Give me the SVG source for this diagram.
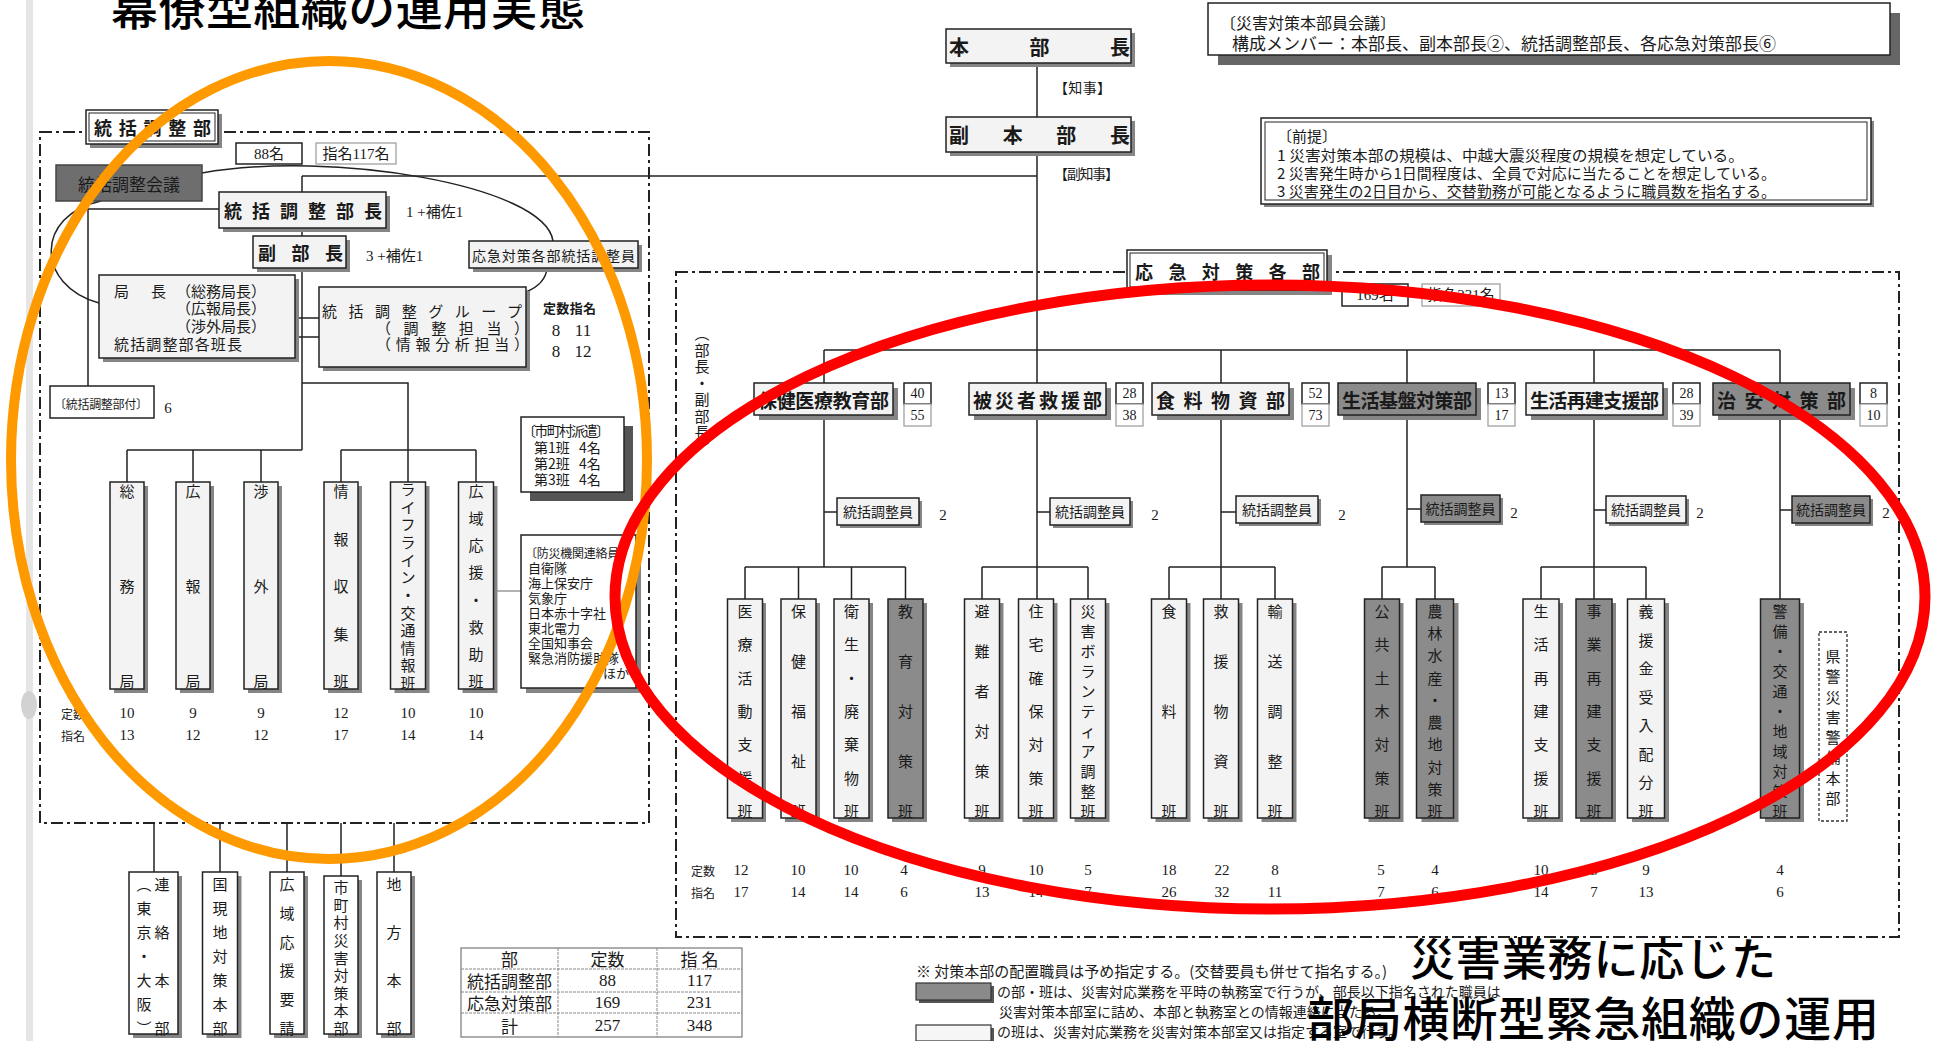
<svg xmlns="http://www.w3.org/2000/svg" width="1933" height="1041" viewBox="0 0 1933 1041">
<style>
text{font-family:"Noto Sans CJK JP","Noto Sans",sans-serif;fill:#1a1a1a;dominant-baseline:central;font-size:15px}
.m{text-anchor:middle}
.num{font-family:"Liberation Serif","Noto Sans CJK JP",serif}
.b{font-weight:bold}
.f12{font-size:12px}.f13{font-size:13px}.f14{font-size:14px}.f16{font-size:16px}.f17{font-size:17px}.f18{font-size:18px}.f19{font-size:19px}.f20{font-size:20px}
.ln{fill:none;stroke:#222;stroke-width:1.5}
.lg{fill:none;stroke:#999;stroke-width:1.5}
.lt{fill:#f3f3f3;stroke:#222;stroke-width:1.5}
.dk{fill:#8b8b8b;stroke:#222;stroke-width:1.5}
.wh{fill:#fff;stroke:#222;stroke-width:1.5}
.wg{fill:#fff;stroke:#999;stroke-width:1.2}
.sh{fill:#858585}
.sd{fill:#555}
.fr{fill:none;stroke:#222;stroke-width:2;stroke-dasharray:12 4 3 4}
.v{text-anchor:middle;font-size:15px}
.ttl{font-family:"Noto Sans CJK JP",sans-serif;font-weight:500;fill:#000;dominant-baseline:alphabetic}
.t45{font-size:45px}.t47{font-size:47px}
</style>

<!-- scan artefacts -->
<rect x="26" y="0" width="7" height="1041" fill="#e6e6e6"/>
<ellipse cx="29" cy="705" rx="8" ry="14" fill="#d2d2d2"/>

<!-- frames -->
<g id="frames">
<rect class="fr" x="40" y="132" width="609" height="691"/>
<rect class="fr" x="676" y="272" width="1223" height="665"/>
</g>

<!-- connectors -->
<g id="connectors">
<path class="ln" d="M302,176 H1037"/>
<path class="ln" d="M302,176 V450 M127,450 H302 M127,450 V482 M193,450 V482 M261,450 V482"/>
<path class="ln" d="M302,383 H408 V482 M341,450 H476 M341,450 V482 M476,450 V482"/>
<path class="ln" d="M295,318 H319 M295,337 H319"/>
<path class="ln" d="M219,209 H88 V386"/>
<path class="ln" d="M202,173 C330,150 545,185 553,241"/>
<path class="ln" d="M101,201 C35,215 35,285 99,303"/>
<path class="ln" d="M547,268 C546,280 538,287 526,292"/>
<path class="lg" d="M492,591 H521"/>
<path class="ln" d="M154,823 V872 M220,823 V872 M287,823 V872 M341,823 V876 M394,823 V872"/>
<path class="ln" d="M1037,63 V383"/>
<path class="ln" d="M824,350 H1780 M824,350 V383 M1221,350 V383 M1407,350 V383 M1594,350 V383 M1780,350 V383"/>
<path class="ln" d="M824,415 V567 M1037,415 V599 M1221,415 V599 M1407,415 V567 M1594,415 V599 M1780,415 V599"/>
<path class="ln" d="M824,512 H837 M1037,512 H1050 M1221,512 H1236 M1407,509 H1421 M1594,510 H1606 M1780,510 H1792"/>
<path class="ln" d="M745,567 H905.5 M745,567 V599 M798.5,567 V599 M851.5,567 V599 M905.5,567 V599"/>
<path class="ln" d="M982,567 H1088 M982,567 V599 M1088,567 V599"/>
<path class="ln" d="M1169,567 H1275 M1169,567 V599 M1275,567 V599"/>
<path class="ln" d="M1382,567 H1435 M1382,567 V599 M1435,567 V599"/>
<path class="ln" d="M1541,567 H1646 M1541,567 V599 M1646,567 V599"/>
</g>

<!-- ===== left: 統括調整部 ===== -->
<g id="hdr-tokatsu">
<rect class="sh" x="90" y="114" width="132" height="34"/>
<rect class="wh" x="86" y="110" width="132" height="34"/>
<rect fill="none" stroke="#222" stroke-width="1" x="89" y="113" width="126" height="28"/>
<text class="f18 b" x="94" y="127" textLength="117" lengthAdjust="spacing">統括調整部</text>
</g>
<g id="cnt-88"><rect class="wh" x="236" y="143" width="66" height="21"/><text class="m num" x="269" y="154">88名</text></g>
<g id="cnt-117"><rect class="wg" x="316" y="143" width="80" height="21"/><text class="m num" x="356" y="154">指名117名</text></g>
<g id="kaigi"><rect fill="#6e6e6e" stroke="#444" stroke-width="1.5" x="56" y="165" width="146" height="36"/><text class="f17 m" x="129" y="183">統括調整会議</text></g>
<g id="buchou">
<rect class="sh" x="223" y="196" width="167" height="36"/><rect class="lt" x="219" y="192" width="167" height="36"/>
<text class="f18 b" x="224" y="210" textLength="158" lengthAdjust="spacing">統括調整部長</text>
<text class="num" x="406" y="212">1 +補佐1</text>
</g>
<g id="fukubuchou">
<rect class="sh" x="257" y="240" width="93" height="32"/><rect class="lt" x="253" y="236" width="93" height="32"/>
<text class="f18 b" x="258" y="252" textLength="85" lengthAdjust="spacing">副部長</text>
<text class="num" x="366" y="256">3 +補佐1</text>
</g>
<g id="oukyu-chousei">
<rect class="sh" x="473" y="245" width="169" height="27"/><rect class="lt" x="469" y="241" width="169" height="27"/>
<text class="f14" x="472" y="255" textLength="163" lengthAdjust="spacing">応急対策各部統括調整員</text>
</g>
<g id="kyokuchou">
<rect class="sh" x="103" y="279" width="196" height="83"/><rect class="lt" x="99" y="275" width="196" height="83"/>
<text x="114" y="290">局<tspan x="151">長</tspan><tspan x="176">（総務局長）</tspan></text>
<text x="176" y="307">（広報局長）</text>
<text x="176" y="325">（渉外局長）</text>
<text x="114" y="343" textLength="128" lengthAdjust="spacing">統括調整部各班長</text>
</g>
<g id="group">
<rect class="sh" x="323" y="291" width="207" height="80"/><rect class="lt" x="319" y="287" width="207" height="80"/>
<text x="322" y="310" textLength="200" lengthAdjust="spacing">統括調整グループ</text>
<text x="376" y="327" textLength="153" lengthAdjust="spacing">（調整担当）</text>
<text x="376" y="343" textLength="153" lengthAdjust="spacing">（情報分析担当）</text>
<text class="f13 b" x="543" y="307" textLength="53" lengthAdjust="spacing">定数指名</text>
<text class="num f17 m" x="556" y="330">8</text><text class="num f17 m" x="583" y="330">11</text>
<text class="num f17 m" x="556" y="351">8</text><text class="num f17 m" x="583" y="351">12</text>
</g>
<g id="fuzoku">
<rect class="wh" x="50" y="386" width="104" height="32"/>
<text class="f12" x="54" y="403" textLength="94" lengthAdjust="spacing">〔統括調整部付〕</text>
<text class="num m" x="168" y="408">6</text>
</g>
<g id="haken">
<rect class="sd" x="530" y="426" width="103" height="75"/><rect class="wh" x="521" y="417" width="103" height="75"/>
<text class="f14" x="522" y="430" textLength="88" lengthAdjust="spacing">〔市町村派遣〕</text>
<text class="f14" x="534" y="447">第1班<tspan x="579">4名</tspan></text>
<text class="f14" x="534" y="463">第2班<tspan x="579">4名</tspan></text>
<text class="f14" x="534" y="479">第3班<tspan x="579">4名</tspan></text>
</g>
<g id="bousai">
<rect class="sh" x="526" y="540" width="115" height="153"/><rect class="wh" x="521" y="535" width="115" height="153"/>
<text class="f12" x="525" y="552" textLength="106" lengthAdjust="spacing">〔防災機関連絡員〕</text>
<text class="f13" x="528" y="567">自衛隊</text>
<text class="f13" x="528" y="582">海上保安庁</text>
<text class="f13" x="528" y="597">気象庁</text>
<text class="f13" x="528" y="612">日本赤十字社</text>
<text class="f13" x="528" y="627">東北電力</text>
<text class="f13" x="528" y="642">全国知事会</text>
<text class="f13" x="528" y="657">緊急消防援助隊</text>
<text class="f13" x="603" y="672">ほか</text>
</g>
<g id="ban-soumu"><rect class="sh" x="114" y="486" width="34" height="207"/><rect class="lt" x="110" y="482" width="34" height="207"/>
<text class="v"><tspan x="127" y="490">総</tspan><tspan x="127" y="585">務</tspan><tspan x="127" y="680">局</tspan></text></g>
<g id="ban-kouhou"><rect class="sh" x="180" y="486" width="34" height="207"/><rect class="lt" x="176" y="482" width="34" height="207"/>
<text class="v"><tspan x="193" y="490">広</tspan><tspan x="193" y="585">報</tspan><tspan x="193" y="680">局</tspan></text></g>
<g id="ban-shougai"><rect class="sh" x="248" y="486" width="34" height="207"/><rect class="lt" x="244" y="482" width="34" height="207"/>
<text class="v"><tspan x="261" y="490">渉</tspan><tspan x="261" y="585">外</tspan><tspan x="261" y="680">局</tspan></text></g>
<g id="ban-jouhou"><rect class="sh" x="328" y="486" width="34" height="207"/><rect class="lt" x="324" y="482" width="34" height="207"/>
<text class="v"><tspan x="341" y="490">情</tspan><tspan x="341" y="537.5">報</tspan><tspan x="341" y="585">収</tspan><tspan x="341" y="632.5">集</tspan><tspan x="341" y="680">班</tspan></text></g>
<g id="ban-lifeline"><rect class="sh" x="394.5" y="486" width="35" height="207"/><rect class="lt" x="390.5" y="482" width="35" height="207"/>
<text class="v"><tspan x="408" y="488">ラ</tspan><tspan x="408" y="505.6">イ</tspan><tspan x="408" y="523.3">フ</tspan><tspan x="408" y="540.9">ラ</tspan><tspan x="408" y="558.5">イ</tspan><tspan x="408" y="576.2">ン</tspan><tspan x="408" y="593.8">・</tspan><tspan x="408" y="611.5">交</tspan><tspan x="408" y="629.1">通</tspan><tspan x="408" y="646.7">情</tspan><tspan x="408" y="664.4">報</tspan><tspan x="408" y="682">班</tspan></text></g>
<g id="ban-kouiki"><rect class="sh" x="462.5" y="486" width="35" height="207"/><rect class="lt" x="458.5" y="482" width="35" height="207"/>
<text class="v"><tspan x="476" y="490">広</tspan><tspan x="476" y="517.1">域</tspan><tspan x="476" y="544.3">応</tspan><tspan x="476" y="571.4">援</tspan><tspan x="476" y="598.6">・</tspan><tspan x="476" y="625.7">救</tspan><tspan x="476" y="652.9">助</tspan><tspan x="476" y="680">班</tspan></text></g>
<g id="left-counts">
<text class="f12" x="61" y="713">定数</text><text class="f12" x="61" y="735">指名</text>
<text class="num m" x="127" y="713">10</text><text class="num m" x="127" y="735">13</text>
<text class="num m" x="193" y="713">9</text><text class="num m" x="193" y="735">12</text>
<text class="num m" x="261" y="713">9</text><text class="num m" x="261" y="735">12</text>
<text class="num m" x="341" y="713">12</text><text class="num m" x="341" y="735">17</text>
<text class="num m" x="408" y="713">10</text><text class="num m" x="408" y="735">14</text>
<text class="num m" x="476" y="713">10</text><text class="num m" x="476" y="735">14</text>
</g>
<!-- bottom-left outside boxes -->
<g id="renraku"><rect class="sh" x="133" y="876" width="49" height="162"/><rect class="wh" x="129" y="872" width="49" height="162"/>
<text class="v f14"><tspan x="162" y="883">連</tspan><tspan x="162" y="931">絡</tspan><tspan x="162" y="979">本</tspan><tspan x="162" y="1027">部</tspan></text>
<text class="v f14"><tspan x="144" y="883">︵</tspan><tspan x="144" y="907">東</tspan><tspan x="144" y="931">京</tspan><tspan x="144" y="955">・</tspan><tspan x="144" y="979">大</tspan><tspan x="144" y="1003">阪</tspan><tspan x="144" y="1027">︶</tspan></text></g>
<g id="genchi"><rect class="sh" x="206.5" y="876" width="35" height="162"/><rect class="wh" x="202.5" y="872" width="35" height="162"/>
<text class="v f14"><tspan x="220" y="883">国</tspan><tspan x="220" y="907">現</tspan><tspan x="220" y="931">地</tspan><tspan x="220" y="955">対</tspan><tspan x="220" y="979">策</tspan><tspan x="220" y="1003">本</tspan><tspan x="220" y="1027">部</tspan></text></g>
<g id="ouen-yousei"><rect class="sh" x="274" y="876" width="34" height="162"/><rect class="wh" x="270" y="872" width="34" height="162"/>
<text class="v f14"><tspan x="287" y="883">広</tspan><tspan x="287" y="911.8">域</tspan><tspan x="287" y="940.6">応</tspan><tspan x="287" y="969.4">援</tspan><tspan x="287" y="998.2">要</tspan><tspan x="287" y="1027">請</tspan></text></g>
<g id="shichouson"><rect class="sh" x="328" y="880" width="34" height="158"/><rect class="wh" x="324" y="876" width="34" height="158"/>
<text class="v f14"><tspan x="341" y="886">市</tspan><tspan x="341" y="903.6">町</tspan><tspan x="341" y="921.2">村</tspan><tspan x="341" y="938.9">災</tspan><tspan x="341" y="956.5">害</tspan><tspan x="341" y="974.1">対</tspan><tspan x="341" y="991.8">策</tspan><tspan x="341" y="1009.4">本</tspan><tspan x="341" y="1027">部</tspan></text></g>
<g id="chihou"><rect class="sh" x="381" y="876" width="34" height="162"/><rect class="wh" x="377" y="872" width="34" height="162"/>
<text class="v f14"><tspan x="394" y="883">地</tspan><tspan x="394" y="931">方</tspan><tspan x="394" y="979">本</tspan><tspan x="394" y="1027">部</tspan></text></g>
<g id="table">
<rect fill="#fff" stroke="#777" stroke-width="1.2" x="461" y="948" width="281" height="89"/>
<path fill="none" stroke="#888" stroke-width="1" stroke-dasharray="3 1" d="M461,969 H742 M461,992 H742 M461,1013 H742 M558,948 V1037 M657,948 V1037"/>
<text class="f17 m" x="509.5" y="958.5">部</text><text class="f17 m" x="607.5" y="958.5">定数</text><text class="f17 m" x="699.5" y="958.5">指 名</text>
<text class="f17 m" x="509.5" y="980.5">統括調整部</text><text class="f17 m num" x="607.5" y="980.5">88</text><text class="f17 m num" x="699.5" y="980.5">117</text>
<text class="f17 m" x="509.5" y="1002.5">応急対策部</text><text class="f17 m num" x="607.5" y="1002.5">169</text><text class="f17 m num" x="699.5" y="1002.5">231</text>
<text class="f17 m" x="509.5" y="1025">計</text><text class="f17 m num" x="607.5" y="1025">257</text><text class="f17 m num" x="699.5" y="1025">348</text>
</g>

<!-- ===== right ===== -->
<g id="honbuchou">
<rect class="sh" x="950" y="33" width="185" height="34"/><rect class="lt" x="946" y="29" width="185" height="34"/>
<text class="f20 b" x="949" y="46" textLength="181" lengthAdjust="spacing">本部長</text>
<text class="f14" x="1054" y="87" textLength="57" lengthAdjust="spacing">【知事】</text>
</g>
<g id="fukuhonbuchou">
<rect class="sh" x="950" y="121" width="185" height="35"/><rect class="lt" x="946" y="117" width="185" height="35"/>
<text class="f20 b" x="949" y="134" textLength="181" lengthAdjust="spacing">副本部長</text>
<text class="f14" x="1054" y="173" textLength="65" lengthAdjust="spacing">【副知事】</text>
</g>
<g id="kaigi-note">
<rect fill="#666" x="1218" y="13" width="682" height="52"/><rect class="wh" x="1208" y="3" width="682" height="52"/>
<text class="f16" x="1220" y="22">〔災害対策本部員会議〕</text>
<text class="f17" x="1232" y="42" textLength="544" lengthAdjust="spacingAndGlyphs">構成メンバー：本部長、副本部長②、統括調整部長、各応急対策部長⑥</text>
</g>
<g id="zentei">
<rect class="sh" x="1264" y="121" width="610" height="86"/><rect class="wh" x="1261" y="118" width="610" height="86"/>
<rect fill="none" stroke="#222" stroke-width="1" x="1265" y="122" width="602" height="78"/>
<text x="1277" y="135">〔前提〕</text>
<text x="1277" y="154" textLength="467" lengthAdjust="spacingAndGlyphs">1 災害対策本部の規模は、中越大震災程度の規模を想定している。</text>
<text x="1277" y="172" textLength="499" lengthAdjust="spacingAndGlyphs">2 災害発生時から1日間程度は、全員で対応に当たることを想定している。</text>
<text x="1277" y="190" textLength="499" lengthAdjust="spacingAndGlyphs">3 災害発生の2日目から、交替勤務が可能となるように職員数を指名する。</text>
</g>
<g id="hdr-oukyu">
<rect class="sh" x="1132" y="255" width="200" height="40"/><rect class="wh" x="1127" y="250" width="200" height="40"/>
<rect fill="none" stroke="#222" stroke-width="1" x="1130" y="253" width="194" height="34"/>
<text class="f18 b" x="1135" y="271" textLength="185" lengthAdjust="spacing">応急対策各部</text>
</g>
<g id="cnt-169"><rect class="wh" x="1342" y="284" width="66" height="22"/><text class="m num" x="1375" y="295">169名</text></g>
<g id="cnt-231"><rect class="wg" x="1422" y="284" width="78" height="22"/><text class="m num" x="1461" y="295">指名231名</text></g>
<text class="v f14"><tspan x="702" y="332">︵</tspan><tspan x="702" y="348.6">部</tspan><tspan x="702" y="365.1">長</tspan><tspan x="702" y="381.7">・</tspan><tspan x="702" y="398.3">副</tspan><tspan x="702" y="414.9">部</tspan><tspan x="702" y="431.4">長</tspan><tspan x="702" y="448">︶</tspan></text>

<!-- departments -->
<g id="dept-hoken">
<rect class="sh" x="759" y="388" width="139" height="32"/><rect class="lt" x="754" y="383" width="139" height="32"/>
<text class="f19 b" x="758" y="399" textLength="131" lengthAdjust="spacing">保健医療教育部</text>
<rect class="wh" x="904" y="383" width="27" height="21"/><rect class="wg" x="904" y="404" width="27" height="22"/>
<text class="num m f14" x="917.5" y="393.5">40</text><text class="num m f14" x="917.5" y="415">55</text>
</g>
<g id="dept-hisaisha">
<rect class="sh" x="974" y="388" width="137" height="32"/><rect class="lt" x="969" y="383" width="137" height="32"/>
<text class="f19 b" x="973" y="399" textLength="129" lengthAdjust="spacing">被災者救援部</text>
<rect class="wh" x="1116" y="383" width="27" height="21"/><rect class="wg" x="1116" y="404" width="27" height="22"/>
<text class="num m f14" x="1129.5" y="393.5">28</text><text class="num m f14" x="1129.5" y="415">38</text>
</g>
<g id="dept-shokuryou">
<rect class="sh" x="1157" y="388" width="137" height="32"/><rect class="lt" x="1152" y="383" width="137" height="32"/>
<text class="f19 b" x="1156" y="399" textLength="129" lengthAdjust="spacing">食料物資部</text>
<rect class="wh" x="1302" y="383" width="27" height="21"/><rect class="wg" x="1302" y="404" width="27" height="22"/>
<text class="num m f14" x="1315.5" y="393.5">52</text><text class="num m f14" x="1315.5" y="415">73</text>
</g>
<g id="dept-kiban">
<rect class="sh" x="1343" y="388" width="138" height="32"/><rect class="dk" x="1338" y="383" width="138" height="32"/>
<text class="f19 b" x="1342" y="399" textLength="130" lengthAdjust="spacing">生活基盤対策部</text>
<rect class="wh" x="1488" y="383" width="27" height="21"/><rect class="wg" x="1488" y="404" width="27" height="22"/>
<text class="num m f14" x="1501.5" y="393.5">13</text><text class="num m f14" x="1501.5" y="415">17</text>
</g>
<g id="dept-saiken">
<rect class="sh" x="1531" y="388" width="137" height="32"/><rect class="lt" x="1526" y="383" width="137" height="32"/>
<text class="f19 b" x="1530" y="399" textLength="129" lengthAdjust="spacing">生活再建支援部</text>
<rect class="wh" x="1673" y="383" width="27" height="21"/><rect class="wg" x="1673" y="404" width="27" height="22"/>
<text class="num m f14" x="1686.5" y="393.5">28</text><text class="num m f14" x="1686.5" y="415">39</text>
</g>
<g id="dept-chian">
<rect class="sh" x="1718" y="388" width="137" height="32"/><rect class="dk" x="1713" y="383" width="137" height="32"/>
<text class="f19 b" x="1717" y="399" textLength="129" lengthAdjust="spacing">治安対策部</text>
<rect class="wh" x="1860" y="383" width="27" height="21"/><rect class="wg" x="1860" y="404" width="27" height="22"/>
<text class="num m f14" x="1873.5" y="393.5">8</text><text class="num m f14" x="1873.5" y="415">10</text>
</g>
<!-- 統括調整員 -->
<g id="chousei-1"><rect class="sh" x="840" y="501" width="82" height="27"/><rect class="lt" x="837" y="498" width="82" height="27"/><text class="f14 m" x="878" y="511">統括調整員</text><text class="num m" x="943" y="515">2</text></g>
<g id="chousei-2"><rect class="sh" x="1053" y="501" width="80" height="27"/><rect class="lt" x="1050" y="498" width="80" height="27"/><text class="f14 m" x="1090" y="511">統括調整員</text><text class="num m" x="1155" y="515">2</text></g>
<g id="chousei-3"><rect class="sh" x="1239" y="499" width="82" height="27"/><rect class="lt" x="1236" y="496" width="82" height="27"/><text class="f14 m" x="1277" y="509">統括調整員</text><text class="num m" x="1342" y="515">2</text></g>
<g id="chousei-4"><rect class="sh" x="1424" y="498" width="79" height="27"/><rect class="dk" x="1421" y="495" width="79" height="27"/><text class="f14 m" x="1460.5" y="508">統括調整員</text><text class="num m" x="1514" y="513">2</text></g>
<g id="chousei-5"><rect class="sh" x="1609" y="499" width="80" height="27"/><rect class="lt" x="1606" y="496" width="80" height="27"/><text class="f14 m" x="1646" y="509">統括調整員</text><text class="num m" x="1700" y="513">2</text></g>
<g id="chousei-6"><rect class="sh" x="1795" y="499" width="78" height="27"/><rect class="dk" x="1792" y="496" width="78" height="27"/><text class="f14 m" x="1831" y="509">統括調整員</text><text class="num m" x="1886" y="513">2</text></g>

<!-- 班 boxes -->
<g id="h-iryou"><rect class="sh" x="731" y="603" width="35" height="219"/><rect class="lt" x="727.5" y="599" width="35" height="219"/>
<text class="v"><tspan x="745" y="610">医</tspan><tspan x="745" y="643.3">療</tspan><tspan x="745" y="676.7">活</tspan><tspan x="745" y="710">動</tspan><tspan x="745" y="743.3">支</tspan><tspan x="745" y="776.7">援</tspan><tspan x="745" y="810">班</tspan></text></g>
<g id="h-fukushi"><rect class="sh" x="785" y="603" width="35" height="219"/><rect class="lt" x="781" y="599" width="35" height="219"/>
<text class="v"><tspan x="798.5" y="610">保</tspan><tspan x="798.5" y="660">健</tspan><tspan x="798.5" y="710">福</tspan><tspan x="798.5" y="760">祉</tspan><tspan x="798.5" y="810">班</tspan></text></g>
<g id="h-eisei"><rect class="sh" x="838" y="603" width="35" height="219"/><rect class="lt" x="834" y="599" width="35" height="219"/>
<text class="v"><tspan x="851.5" y="610">衛</tspan><tspan x="851.5" y="643.3">生</tspan><tspan x="851.5" y="676.7">・</tspan><tspan x="851.5" y="710">廃</tspan><tspan x="851.5" y="743.3">棄</tspan><tspan x="851.5" y="776.7">物</tspan><tspan x="851.5" y="810">班</tspan></text></g>
<g id="h-kyouiku"><rect class="sh" x="892" y="603" width="35" height="219"/><rect class="dk" x="888" y="599" width="35" height="219"/>
<text class="v"><tspan x="905.5" y="610">教</tspan><tspan x="905.5" y="660">育</tspan><tspan x="905.5" y="710">対</tspan><tspan x="905.5" y="760">策</tspan><tspan x="905.5" y="810">班</tspan></text></g>
<g id="h-hinan"><rect class="sh" x="968.5" y="603" width="35" height="219"/><rect class="lt" x="964.5" y="599" width="35" height="219"/>
<text class="v"><tspan x="982" y="610">避</tspan><tspan x="982" y="650">難</tspan><tspan x="982" y="690">者</tspan><tspan x="982" y="730">対</tspan><tspan x="982" y="770">策</tspan><tspan x="982" y="810">班</tspan></text></g>
<g id="h-juutaku"><rect class="sh" x="1022.5" y="603" width="35" height="219"/><rect class="lt" x="1018.5" y="599" width="35" height="219"/>
<text class="v"><tspan x="1036" y="610">住</tspan><tspan x="1036" y="643.3">宅</tspan><tspan x="1036" y="676.7">確</tspan><tspan x="1036" y="710">保</tspan><tspan x="1036" y="743.3">対</tspan><tspan x="1036" y="776.7">策</tspan><tspan x="1036" y="810">班</tspan></text></g>
<g id="h-volunteer"><rect class="sh" x="1074.5" y="603" width="35" height="219"/><rect class="lt" x="1070.5" y="599" width="35" height="219"/>
<text class="v"><tspan x="1088" y="610">災</tspan><tspan x="1088" y="630">害</tspan><tspan x="1088" y="650">ボ</tspan><tspan x="1088" y="670">ラ</tspan><tspan x="1088" y="690">ン</tspan><tspan x="1088" y="710">テ</tspan><tspan x="1088" y="730">ィ</tspan><tspan x="1088" y="750">ア</tspan><tspan x="1088" y="770">調</tspan><tspan x="1088" y="790">整</tspan><tspan x="1088" y="810">班</tspan></text></g>
<g id="h-shokuryou"><rect class="sh" x="1155.5" y="603" width="35" height="219"/><rect class="lt" x="1151.5" y="599" width="35" height="219"/>
<text class="v"><tspan x="1169" y="610">食</tspan><tspan x="1169" y="710">料</tspan><tspan x="1169" y="810">班</tspan></text></g>
<g id="h-kyuuen"><rect class="sh" x="1207.5" y="603" width="35" height="219"/><rect class="lt" x="1203.5" y="599" width="35" height="219"/>
<text class="v"><tspan x="1221" y="610">救</tspan><tspan x="1221" y="660">援</tspan><tspan x="1221" y="710">物</tspan><tspan x="1221" y="760">資</tspan><tspan x="1221" y="810">班</tspan></text></g>
<g id="h-yusou"><rect class="sh" x="1261.5" y="603" width="35" height="219"/><rect class="lt" x="1257.5" y="599" width="35" height="219"/>
<text class="v"><tspan x="1275" y="610">輸</tspan><tspan x="1275" y="660">送</tspan><tspan x="1275" y="710">調</tspan><tspan x="1275" y="760">整</tspan><tspan x="1275" y="810">班</tspan></text></g>
<g id="h-doboku"><rect class="sh" x="1368.5" y="603" width="35" height="219"/><rect class="dk" x="1364.5" y="599" width="35" height="219"/>
<text class="v"><tspan x="1382" y="610">公</tspan><tspan x="1382" y="643.3">共</tspan><tspan x="1382" y="676.7">土</tspan><tspan x="1382" y="710">木</tspan><tspan x="1382" y="743.3">対</tspan><tspan x="1382" y="776.7">策</tspan><tspan x="1382" y="810">班</tspan></text></g>
<g id="h-nourin"><rect class="sh" x="1421.5" y="603" width="37" height="219"/><rect class="dk" x="1416.5" y="599" width="37" height="219"/>
<text class="v"><tspan x="1435" y="610">農</tspan><tspan x="1435" y="632.2">林</tspan><tspan x="1435" y="654.4">水</tspan><tspan x="1435" y="676.7">産</tspan><tspan x="1435" y="698.9">・</tspan><tspan x="1435" y="721.1">農</tspan><tspan x="1435" y="743.3">地</tspan><tspan x="1435" y="765.6">対</tspan><tspan x="1435" y="787.8">策</tspan><tspan x="1435" y="810">班</tspan></text></g>
<g id="h-seikatsu"><rect class="sh" x="1527" y="603" width="36" height="219"/><rect class="lt" x="1523" y="599" width="36" height="219"/>
<text class="v"><tspan x="1541" y="610">生</tspan><tspan x="1541" y="643.3">活</tspan><tspan x="1541" y="676.7">再</tspan><tspan x="1541" y="710">建</tspan><tspan x="1541" y="743.3">支</tspan><tspan x="1541" y="776.7">援</tspan><tspan x="1541" y="810">班</tspan></text></g>
<g id="h-jigyou"><rect class="sh" x="1580" y="603" width="36" height="219"/><rect class="dk" x="1576" y="599" width="36" height="219"/>
<text class="v"><tspan x="1594" y="610">事</tspan><tspan x="1594" y="643.3">業</tspan><tspan x="1594" y="676.7">再</tspan><tspan x="1594" y="710">建</tspan><tspan x="1594" y="743.3">支</tspan><tspan x="1594" y="776.7">援</tspan><tspan x="1594" y="810">班</tspan></text></g>
<g id="h-gienkin"><rect class="sh" x="1632" y="603" width="37" height="219"/><rect class="lt" x="1627.5" y="599" width="37" height="219"/>
<text class="v"><tspan x="1646" y="610">義</tspan><tspan x="1646" y="638.6">援</tspan><tspan x="1646" y="667.1">金</tspan><tspan x="1646" y="695.7">受</tspan><tspan x="1646" y="724.3">入</tspan><tspan x="1646" y="752.9">配</tspan><tspan x="1646" y="781.4">分</tspan><tspan x="1646" y="810">班</tspan></text></g>
<g id="h-keibi"><rect class="sh" x="1765" y="603" width="39" height="219"/><rect class="dk" x="1760.5" y="599" width="39" height="219"/>
<text class="v"><tspan x="1780" y="610">警</tspan><tspan x="1780" y="630">備</tspan><tspan x="1780" y="650">・</tspan><tspan x="1780" y="670">交</tspan><tspan x="1780" y="690">通</tspan><tspan x="1780" y="710">・</tspan><tspan x="1780" y="730">地</tspan><tspan x="1780" y="750">域</tspan><tspan x="1780" y="770">対</tspan><tspan x="1780" y="790">策</tspan><tspan x="1780" y="810">班</tspan></text></g>
<g id="kenkei"><rect fill="#fff" stroke="#333" stroke-width="1.3" stroke-dasharray="3 2" x="1819" y="632" width="28" height="189"/>
<text class="v f18"><tspan x="1833" y="655">県</tspan><tspan x="1833" y="675.3">警</tspan><tspan x="1833" y="695.6">災</tspan><tspan x="1833" y="715.9">害</tspan><tspan x="1833" y="736.1">警</tspan><tspan x="1833" y="756.4">備</tspan><tspan x="1833" y="776.7">本</tspan><tspan x="1833" y="797">部</tspan></text></g>

<g id="right-counts">
<text class="f12" x="691" y="870">定数</text><text class="f12" x="691" y="892">指名</text>
<text class="num m" x="741" y="870">12</text><text class="num m" x="741" y="892">17</text>
<text class="num m" x="798" y="870">10</text><text class="num m" x="798" y="892">14</text>
<text class="num m" x="851" y="870">10</text><text class="num m" x="851" y="892">14</text>
<text class="num m" x="904" y="870">4</text><text class="num m" x="904" y="892">6</text>
<text class="num m" x="982" y="870">9</text><text class="num m" x="982" y="892">13</text>
<text class="num m" x="1036" y="870">10</text><text class="num m" x="1036" y="892">14</text>
<text class="num m" x="1088" y="870">5</text><text class="num m" x="1088" y="892">7</text>
<text class="num m" x="1169" y="870">18</text><text class="num m" x="1169" y="892">26</text>
<text class="num m" x="1222" y="870">22</text><text class="num m" x="1222" y="892">32</text>
<text class="num m" x="1275" y="870">8</text><text class="num m" x="1275" y="892">11</text>
<text class="num m" x="1381" y="870">5</text><text class="num m" x="1381" y="892">7</text>
<text class="num m" x="1435" y="870">4</text><text class="num m" x="1435" y="892">6</text>
<text class="num m" x="1541" y="870">10</text><text class="num m" x="1541" y="892">14</text>
<text class="num m" x="1594" y="870">5</text><text class="num m" x="1594" y="892">7</text>
<text class="num m" x="1646" y="870">9</text><text class="num m" x="1646" y="892">13</text>
<text class="num m" x="1780" y="870">4</text><text class="num m" x="1780" y="892">6</text>
</g>

<!-- notes -->
<g id="notes">
<text x="916" y="970">※ 対策本部の配置職員は予め指定する。(交替要員も併せて指名する。)</text>
<rect fill="#555" x="919" y="986" width="75" height="17"/><rect fill="#8a8a8a" stroke="#333" stroke-width="1.2" x="916" y="983" width="75" height="17"/>
<text class="f14" x="997" y="991">の部・班は、災害対応業務を平時の執務室で行うが、部長以下指名された職員は</text>
<text class="f14" x="999" y="1011">災害対策本部室に詰め、本部と執務室との情報連絡に当たる。</text>
<rect fill="#555" x="919" y="1028" width="75" height="16"/><rect fill="#f6f6f6" stroke="#333" stroke-width="1.2" x="916" y="1025" width="75" height="16"/>
<text class="f14" x="997" y="1031">の班は、災害対応業務を災害対策本部室又は指定する室で行う。</text>
</g>

<!-- highlight ellipses -->
<ellipse cx="329" cy="460" rx="318" ry="399" fill="none" stroke="#FF9900" stroke-width="10"/>
<ellipse cx="1270" cy="597" rx="655" ry="312" fill="none" stroke="#FF0000" stroke-width="11"/>

<!-- titles -->
<text class="ttl t47" x="111" y="25" textLength="474" lengthAdjust="spacing">幕僚型組織の運用実態</text>
<text class="ttl t45" x="1410" y="976" textLength="366" lengthAdjust="spacing">災害業務に応じた</text>
<text class="ttl t47" x="1307" y="1036" textLength="572" lengthAdjust="spacing">部局横断型緊急組織の運用</text>
</svg>
